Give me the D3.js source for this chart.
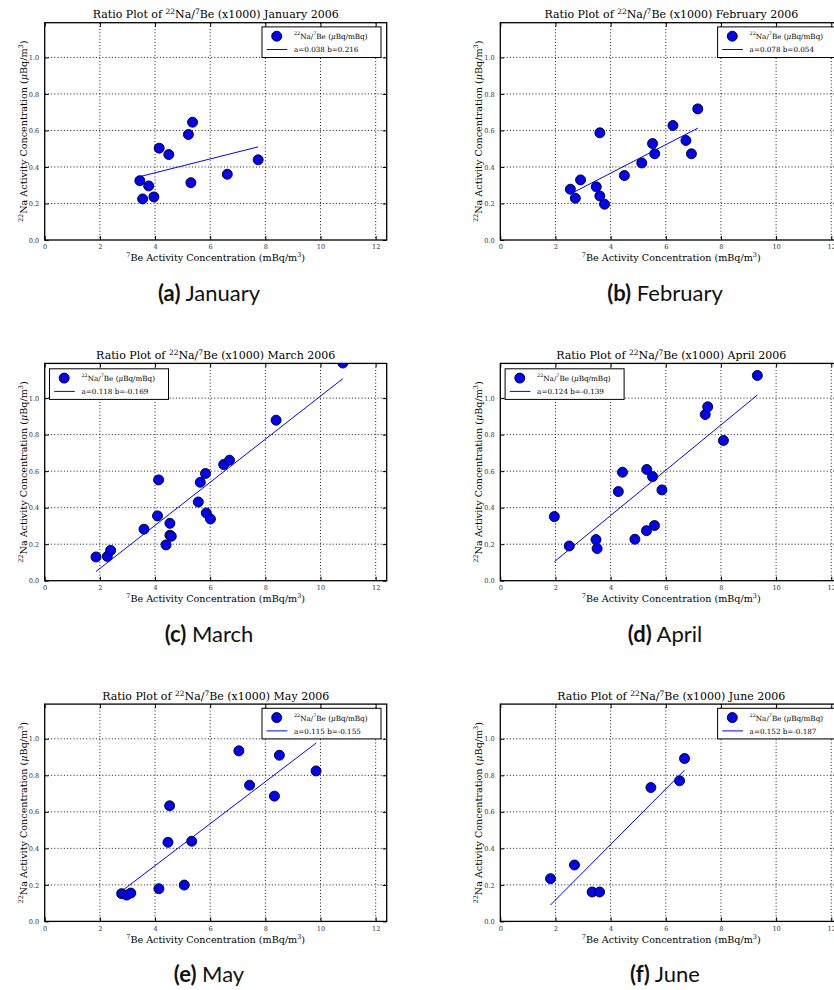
<!DOCTYPE html>
<html>
<head>
<meta charset="utf-8">
<script src="https://cdn.jsdelivr.net/npm/d3@7"></script>
<style>
  html, body { margin: 0; padding: 0; background: #fff; }
  svg { display: block; }
</style>
</head>
<body>
<svg id="chart" width="834" height="990"></svg>
<script>
// ---------------- data ----------------
const months = ["January", "February", "March", "April", "May", "June"];
const captionLetters = ["a", "b", "c", "d", "e", "f"];
const year = "2006";

const janX = [3.45, 3.55, 3.77, 3.96, 4.15, 4.50, 5.21, 5.36, 5.30, 6.62, 7.74];
const janY = [0.325, 0.225, 0.296, 0.236, 0.503, 0.468, 0.578, 0.645, 0.314, 0.360, 0.439];

const febX = [2.54, 2.72, 2.91, 3.48, 3.61, 3.61, 3.78, 4.50, 5.13, 5.52, 5.60, 6.26, 6.73, 6.93, 7.16];
const febY = [0.278, 0.229, 0.329, 0.291, 0.241, 0.587, 0.196, 0.353, 0.422, 0.528, 0.472, 0.627, 0.545, 0.472, 0.718];

const marX = [1.86, 2.27, 2.39, 3.60, 4.09, 4.13, 4.40, 4.54, 4.54, 4.59, 5.57, 5.64, 5.83, 5.86, 6.01, 6.49, 6.70, 8.39, 10.81];
const marY = [0.130, 0.133, 0.166, 0.282, 0.355, 0.552, 0.196, 0.314, 0.249, 0.243, 0.431, 0.539, 0.587, 0.371, 0.338, 0.636, 0.660, 0.879, 1.192];

const aprX = [1.96, 2.50, 3.47, 3.51, 4.28, 4.43, 4.88, 5.30, 5.31, 5.52, 5.59, 5.86, 7.43, 7.52, 8.09, 9.32];
const aprY = [0.351, 0.190, 0.225, 0.176, 0.488, 0.594, 0.227, 0.274, 0.609, 0.570, 0.302, 0.497, 0.910, 0.952, 0.768, 1.124];

const mayX = [2.79, 2.97, 3.12, 4.14, 4.47, 4.53, 5.06, 5.33, 7.04, 7.43, 8.33, 8.51, 9.84];
const mayY = [0.152, 0.144, 0.155, 0.179, 0.433, 0.633, 0.199, 0.439, 0.934, 0.746, 0.686, 0.910, 0.824];

const junX = [1.82, 2.69, 3.33, 3.60, 5.46, 6.50, 6.68];
const junY = [0.234, 0.309, 0.161, 0.161, 0.733, 0.770, 0.892];

const fitA = [0.038, 0.078, 0.118, 0.124, 0.115, 0.152];
const fitB = [0.216, 0.054, -0.169, -0.139, -0.155, -0.187];

const xTicks = [0, 2, 4, 6, 8, 10, 12];
const yTicks = [0.0, 0.2, 0.4, 0.6, 0.8, 1.0];
const xDomain = [0, 12.4];
const yDomain = [0, 1.19];
const legendCorner = ["right", "right", "left", "left", "right", "right"];

const seriesX = [janX, febX, marX, aprX, mayX, junX];
const seriesY = [janY, febY, marY, aprY, mayY, junY];

// ---------------- layout ----------------
const colLeft = [44.7, 500.3];
const colCaption = [209, 665];
const rowTop = [22.7, 363.4, 704.1];
const plotW = 342, plotH = 217.3;
const serif = "'DejaVu Serif', 'Liberation Serif', serif";
const blue = "#0000ff";

const svg = d3.select("#chart");

function supText(sel, parts, size) {
  parts.forEach(p => {
    const t = sel.append("tspan").text(p[0]);
    if (p[1]) t.attr("baseline-shift", "super").attr("font-size", (size * 0.68) + "px");
    if (p[2]) t.attr("font-style", "italic");
  });
}

months.forEach((month, i) => {
  const col = i % 2, row = Math.floor(i / 2);
  const left = colLeft[col], top = rowTop[row];
  const xs = seriesX[i], ys = seriesY[i];
  const data = xs.map((x, k) => ({x: x, y: ys[k]}));

  const x = d3.scaleLinear().domain(xDomain).range([0, plotW]);
  const y = d3.scaleLinear().domain(yDomain).range([plotH, 0]);

  const g = svg.append("g").attr("transform", `translate(${left},${top})`);

  const clipId = "clip" + i;
  g.append("clipPath").attr("id", clipId)
    .append("rect").attr("x", 0).attr("y", 0).attr("width", plotW).attr("height", plotH);

  // grid
  const grid = g.append("g").attr("stroke", "#000").attr("stroke-width", 0.9)
    .attr("stroke-dasharray", "1,2.2");
  grid.selectAll("line.gx").data(xTicks.filter(t => t > 0)).join("line")
    .attr("x1", d => x(d)).attr("x2", d => x(d)).attr("y1", 0).attr("y2", plotH);
  grid.selectAll("line.gy").data(yTicks.filter(t => t > 0)).join("line")
    .attr("y1", d => y(d)).attr("y2", d => y(d)).attr("x1", 0).attr("x2", plotW);

  // axes
  const tickFont = 6.6;
  const axB = g.append("g").attr("transform", `translate(0,${plotH})`)
    .call(d3.axisBottom(x).tickValues(xTicks).tickSize(-4).tickPadding(4.8).tickFormat(d3.format("d")));
  const axL = g.append("g")
    .call(d3.axisLeft(y).tickValues(yTicks).tickSize(-4).tickPadding(5.5).tickFormat(d3.format(".1f")));
  const axT = g.append("g")
    .call(d3.axisTop(x).tickValues(xTicks).tickSize(-4).tickFormat(""));
  const axR = g.append("g").attr("transform", `translate(${plotW},0)`)
    .call(d3.axisRight(y).tickValues(yTicks).tickSize(-4).tickFormat(""));
  [axB, axL, axT, axR].forEach(a => {
    a.select(".domain").remove();
    a.selectAll("line").attr("stroke", "#000").attr("stroke-width", 1);
    a.selectAll("text").attr("font-family", serif).attr("font-size", tickFont + "px").attr("fill", "#333");
  });

  // points
  const pg = g.append("g").attr("clip-path", `url(#${clipId})`);
  pg.selectAll("circle").data(data).join("circle")
    .attr("cx", d => x(d.x)).attr("cy", d => y(d.y)).attr("r", 5)
    .attr("fill", blue).attr("stroke", "#000").attr("stroke-width", 0.9);

  // fit line across data extent
  const ext = d3.extent(xs);
  const fitData = ext.map(v => ({x: v, y: fitA[i] * v + fitB[i]}));
  pg.append("path").datum(fitData)
    .attr("d", d3.line().x(d => x(d.x)).y(d => y(d.y)))
    .attr("fill", "none").attr("stroke", blue).attr("stroke-width", 1);

  // frame
  g.append("rect").attr("x", 0).attr("y", 0).attr("width", plotW).attr("height", plotH)
    .attr("fill", "none").attr("stroke", "#000").attr("stroke-width", 1.3);

  // title
  const tSize = 11;
  const title = g.append("text").attr("x", plotW / 2).attr("y", -4.5)
    .attr("text-anchor", "middle").attr("font-family", serif).attr("font-size", tSize + "px").attr("fill", "#000");
  supText(title, [["Ratio Plot of ", false], ["22", true], ["Na/", false], ["7", true], [`Be (x1000) ${month} ${year}`, false]], tSize);

  // x label
  const xl = g.append("text").attr("x", plotW / 2).attr("y", plotH + 21.5)
    .attr("text-anchor", "middle").attr("font-family", serif).attr("font-size", "9.6px").attr("fill", "#000");
  supText(xl, [["7", true], ["Be Activity Concentration (mBq/m", false], ["3", true], [")", false]], 9.6);

  // y label
  const yl = g.append("text").attr("transform", `translate(-18,${plotH / 2}) rotate(-90)`)
    .attr("text-anchor", "middle").attr("font-family", serif).attr("font-size", "9.6px").attr("fill", "#000");
  supText(yl, [["22", true], ["Na Activity Concentration (", false], ["\u03bc", false, true], ["Bq/m", false], ["3", true], [")", false]], 9.6);

  // legend
  const lg = g.append("g");
  const lgFont = 7.2;
  const box = lg.append("rect").attr("fill", "#fff").attr("stroke", "#000").attr("stroke-width", 1);
  const t1 = lg.append("text").attr("x", 32).attr("y", 9.5).attr("dominant-baseline", "central")
    .attr("font-family", serif).attr("font-size", lgFont + "px").attr("fill", "#000");
  supText(t1, [["22", true], ["Na/", false], ["7", true], ["Be (", false], ["\u03bc", false, true], ["Bq/mBq)", false]], lgFont);
  const t2 = lg.append("text").attr("x", 32).attr("y", 22.8).attr("dominant-baseline", "central")
    .attr("font-family", serif).attr("font-size", lgFont + "px").attr("fill", "#000")
    .text(`a=${fitA[i].toFixed(3)} b=${fitB[i].toFixed(3)}`);
  lg.append("circle").attr("cx", 14.7).attr("cy", 9.3).attr("r", 5)
    .attr("fill", blue).attr("stroke", "#000").attr("stroke-width", 0.9);
  lg.append("line").attr("x1", 4.7).attr("x2", 25.3).attr("y1", 22.6).attr("y2", 22.6)
    .attr("stroke", blue).attr("stroke-width", 1);
  const tw = Math.max(t1.node().getComputedTextLength(), t2.node().getComputedTextLength());
  const bw = Math.max(119, 32 + tw + 4), bh = 30.6;
  box.attr("width", bw).attr("height", bh);
  const lx = legendCorner[i] === "right" ? plotW - 5.7 - bw : 4.8;
  const ly = legendCorner[i] === "right" ? 4.2 : 5.4;
  lg.attr("transform", `translate(${lx},${ly})`);

  // caption
  const cap = svg.append("text").attr("x", colCaption[col]).attr("y", top + plotH + 61)
    .attr("text-anchor", "middle").attr("font-family", "Lato, 'Open Sans', sans-serif")
    .attr("font-size", "22px").attr("fill", "#111");
  cap.append("tspan").attr("font-weight", "bold").text(`(${captionLetters[i]})`);
  cap.append("tspan").text(" " + month);
});
</script>
</body>
</html>
